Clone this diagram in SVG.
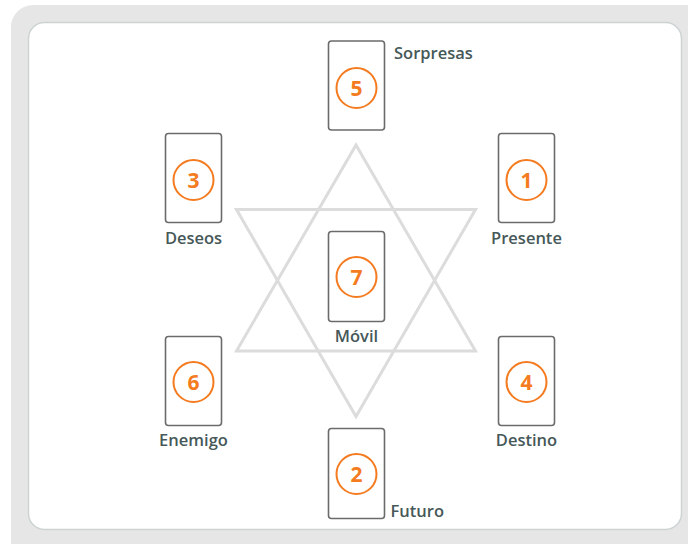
<svg xmlns="http://www.w3.org/2000/svg" width="688" height="544" viewBox="0 0 688 544">
<style>
.card{fill:#fff;stroke:#6b6b6b;stroke-width:1.6}
.ring{fill:none;stroke:#f47b20;stroke-width:2}
.num{font-family:"Open Sans","Liberation Sans",sans-serif;font-weight:bold;font-size:21px;fill:#f47b20;text-anchor:middle}
.lbl{font-family:"Open Sans","Liberation Sans",sans-serif;font-weight:600;font-size:16.5px;fill:#465858}
.mid{text-anchor:middle}
.star{fill:none;stroke:#dcdcdc;stroke-width:3;stroke-linejoin:miter}
</style>
<rect x="11" y="5" width="700" height="560" rx="22" fill="#e6e6e6"/>
<rect x="28.5" y="22.5" width="653" height="507" rx="16" fill="#fff" stroke="#cdd3d3" stroke-width="1.5"/>
<g id="connectors">
<polygon class="star" points="356,145 475.5,351 236.5,351"/>
<polygon class="star" points="356,416.5 475.5,209.5 236.5,209.5"/>
</g>
<g id="card5">
<rect class="card" x="328.5" y="41" width="56" height="89" rx="3"/>
<circle class="ring" cx="356.5" cy="88" r="20"/>
<text class="num" x="356.5" y="95.5">5</text>
<text class="lbl" x="394" y="59">Sorpresas</text>
</g>
<g id="card3">
<rect class="card" x="165.5" y="133.5" width="56" height="89" rx="3"/>
<circle class="ring" cx="193.5" cy="180" r="20"/>
<text class="num" x="193.5" y="187.5">3</text>
<text class="lbl mid" x="193.5" y="243.5">Deseos</text>
</g>
<g id="card1">
<rect class="card" x="498.5" y="133.5" width="56" height="89" rx="3"/>
<circle class="ring" cx="526.5" cy="180" r="20"/>
<text class="num" x="526.5" y="187.5">1</text>
<text class="lbl mid" x="526.5" y="243.5">Presente</text>
</g>
<g id="card7">
<rect class="card" x="328.5" y="231.5" width="56" height="90" rx="3"/>
<circle class="ring" cx="356.5" cy="277" r="20"/>
<text class="num" x="356.5" y="284.5">7</text>
<text class="lbl mid" x="356.5" y="342">Móvil</text>
</g>
<g id="card6">
<rect class="card" x="165.5" y="336.5" width="56" height="89" rx="3"/>
<circle class="ring" cx="193.5" cy="382" r="20"/>
<text class="num" x="193.5" y="389.5">6</text>
<text class="lbl mid" x="193.5" y="446">Enemigo</text>
</g>
<g id="card4">
<rect class="card" x="498.5" y="336.5" width="56" height="89" rx="3"/>
<circle class="ring" cx="526.5" cy="382" r="20"/>
<text class="num" x="526.5" y="389.5">4</text>
<text class="lbl mid" x="526.5" y="446">Destino</text>
</g>
<g id="card2">
<rect class="card" x="328.5" y="428.5" width="56" height="90" rx="3"/>
<circle class="ring" cx="356.5" cy="474" r="20"/>
<text class="num" x="356.5" y="481.5">2</text>
<text class="lbl" x="390.5" y="517">Futuro</text>
</g>
</svg>
